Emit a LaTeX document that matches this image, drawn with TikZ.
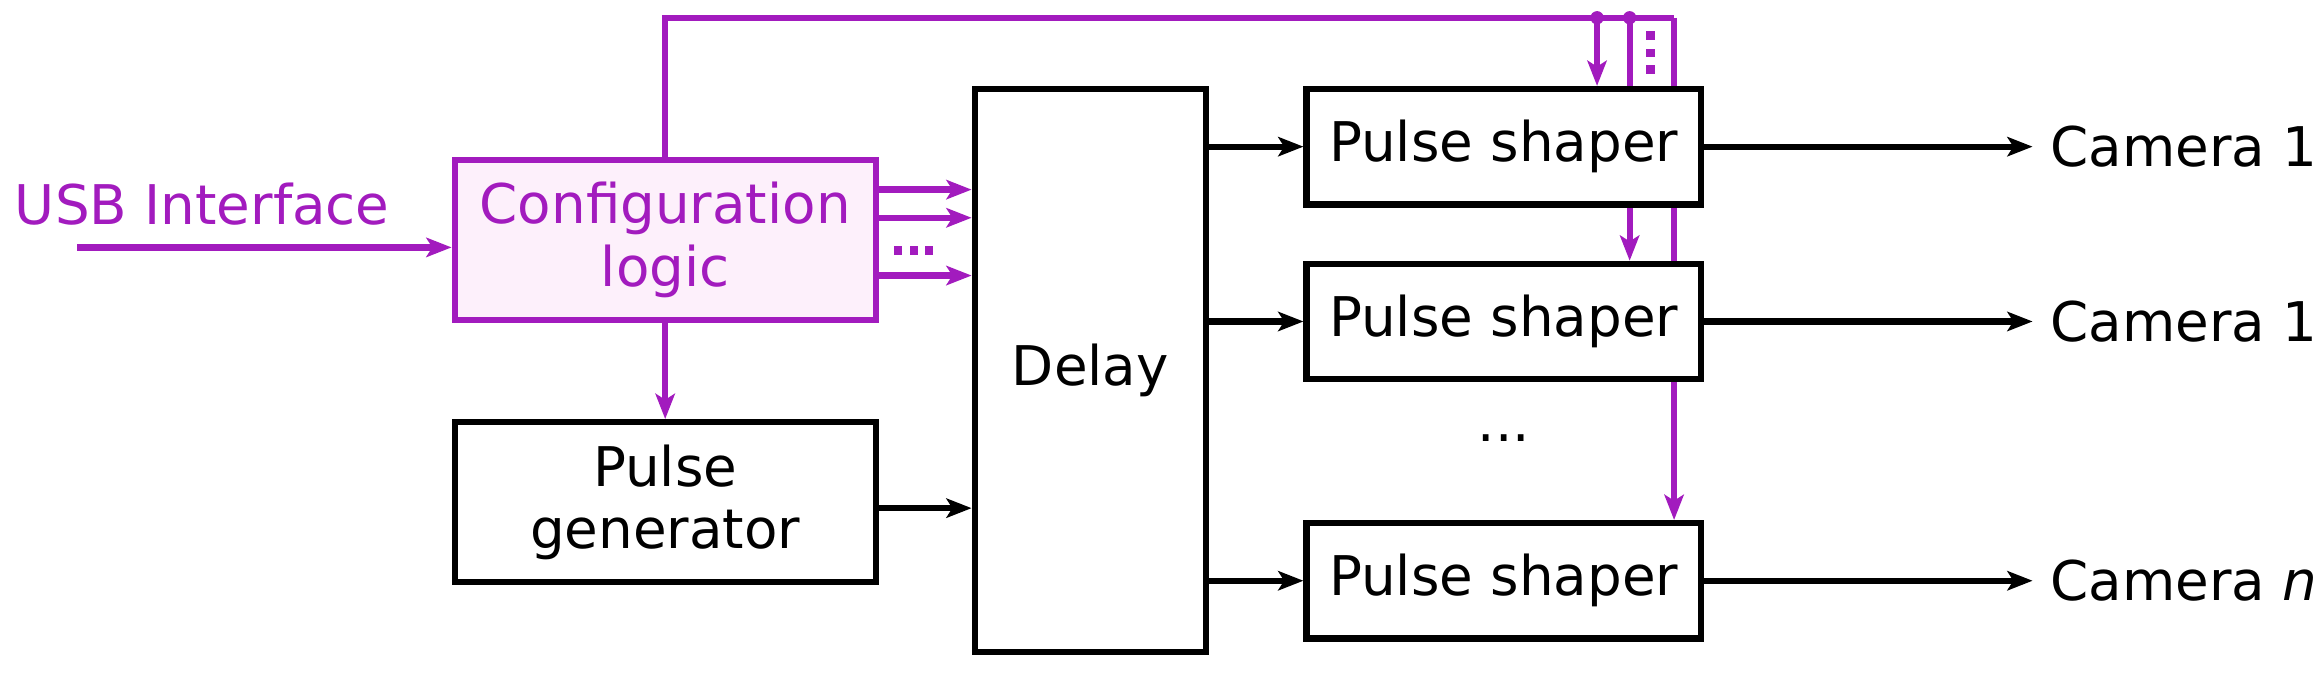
\documentclass[tikz,border=0pt]{standalone}
\usepackage{fontspec}
\setmainfont{DejaVu Sans}
\usetikzlibrary{arrows.meta}
\definecolor{cfg}{HTML}{A21BBE}
\definecolor{cfgfill}{HTML}{FDF0FB}
\begin{document}
\begin{tikzpicture}[x=0.01cm,y=-0.01cm,line width=1.2pt,
  every node/.style={font=\fontsize{10.5}{12}\selectfont},
  box/.style={draw,fill=white,inner sep=0pt,align=center},
  arr/.style={-{Stealth[length=0.17cm,width=0.13cm,inset=0.04cm]}},
  dot/.style={fill=cfg,inner sep=0pt,minimum size=1.6pt}]
\useasboundingbox (0,0) rectangle (1568,458);
% feedback lines behind the shaper boxes
\coordinate (j1) at (1078,12);
\coordinate (j2) at (1100,12);
\coordinate (jc) at (1130,12);
\node[box,draw=cfg,fill=cfgfill,text=cfg,minimum width=284\pgflinewidth*0+2.84cm,minimum height=1.08cm] (cfgl) at (449,162) {Configuration\\logic};
\draw[cfg] (cfgl.north) -- (cfgl.north |- jc) -- (jc);
\draw[cfg,arr] (jc) -- (1130,351);
\draw[cfg,arr] (j2) -- (1100,176);
\draw[cfg,arr] (j1) -- (1078,58);
\fill[cfg] (j1) circle (0.045cm) (j2) circle (0.045cm);
\foreach \y in {24,36,47} \node[dot] at (1114,\y) {};
% boxes
\node[box,minimum width=2.84cm,minimum height=1.08cm] (pgen) at (449,339) {Pulse\\generator};
\node[box,minimum width=1.56cm,minimum height=3.8cm] (dly) at (736,250) {Delay};
\node[box,minimum width=2.66cm,minimum height=0.78cm] (ps1) at (1015,99) {Pulse shaper};
\node[box,minimum width=2.66cm,minimum height=0.78cm] (ps2) at (1015,217) {Pulse shaper};
\node[box,minimum width=2.66cm,minimum height=0.78cm] (ps3) at (1015,392) {Pulse shaper};
\node (vd) at (1015,296) {...};
% input
\node[text=cfg,anchor=west,inner sep=0pt] (usb) at (8,138) {USB Interface};
\coordinate (usbs) at (52,167);
\draw[cfg,arr] (usbs) -- (cfgl.west |- usbs);
\draw[cfg,arr] (cfgl.south) -- (pgen.north);
\foreach \y in {128,147,186}
  \draw[cfg,arr] (cfgl.east |- {(0,\y)}) -- (dly.west |- {(0,\y)});
\foreach \x in {606,617,627} \node[dot] at (\x,169) {};
\draw[arr] (pgen.east |- {(0,343)}) -- (dly.west |- {(0,343)});
% outputs
\node[anchor=west,inner sep=0pt] (c1) at (1382,99) {Camera 1};
\node[anchor=west,inner sep=0pt] (c2) at (1382,217) {Camera 1};
\node[anchor=west,inner sep=0pt] (c3) at (1382,392) {Camera \textit{n}};
\foreach \p/\c in {ps1/c1,ps2/c2,ps3/c3}{
  \draw[arr] (dly.east |- \p) -- (\p.west);
  \draw[arr] (\p.east) -- ([xshift=-0.1cm]\c.west);
}
\end{tikzpicture}
\end{document}
